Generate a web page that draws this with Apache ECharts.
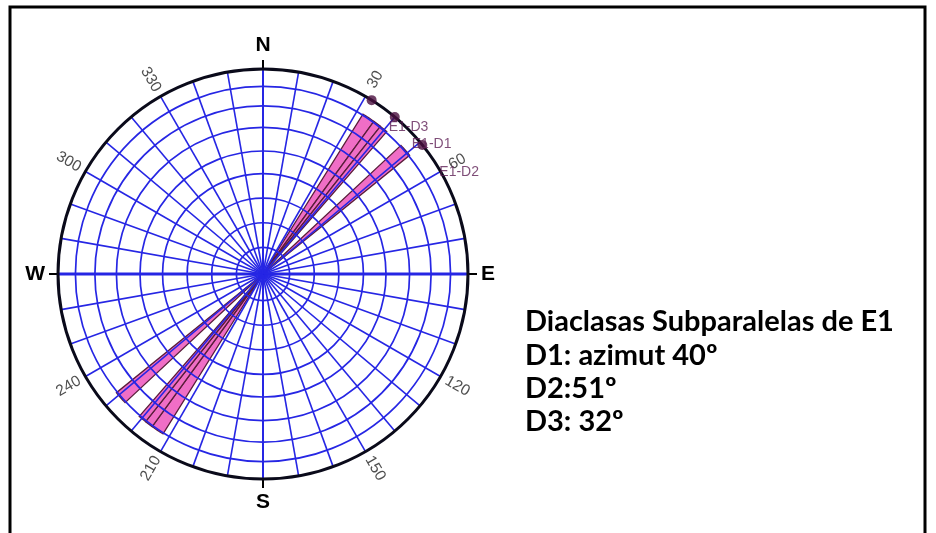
<!DOCTYPE html>
<html><head><meta charset="utf-8">
<script src="https://cdn.jsdelivr.net/npm/echarts/dist/echarts.min.js"></script>
<style>html,body{margin:0;padding:0;background:#fff}#c{width:936px;height:533px}</style>
</head><body><div id="c"></div>
<script>
// ---- data ----
const cardinalLabels = {0:'N', 90:'E', 180:'S', 270:'W'};
const tickAngles = [30, 60, 120, 150, 210, 240, 300, 330];
const tickLabels = ['30', '60', '120', '150', '210', '240', '300', '330'];
const gridCircleRadii = [0.13, 0.25, 0.37, 0.49, 0.60, 0.715, 0.82, 0.915];
const spokeAngles = [0,10,20,30,40,50,60,70,80,90,100,110,120,130,140,150,160,170,
                     180,190,200,210,220,230,240,250,260,270,280,290,300,310,320,330,340,350];
const petalStart  = [32, 36, 38.5, 47];
const petalEnd    = [36, 38.5, 41, 51];
const petalLength = [0.92, 0.92, 0.92, 0.92];
const jointNames    = ['E1-D3', 'E1-D1', 'E1-D2'];
const jointAzimuths = [32, 40, 51];
const infoLines = ['Diaclasas Subparalelas de E1', 'D1: azimut 40º', 'D2:51º', 'D3: 32º'];

// ---- chart ----
const chart = echarts.init(document.getElementById('c'), null, {renderer: 'canvas'});
const BLUE = '#2626e4';
const labelFont = 'Liberation Sans';

const petalData = [];
petalStart.forEach((s, i) => {
  petalData.push([petalLength[i], s, petalEnd[i]]);
  petalData.push([petalLength[i], s + 180, petalEnd[i] + 180]);
});

const option = {
  backgroundColor: '#fff',
  animation: false,
  polar: {center: [263, 274], radius: 205},
  radiusAxis: {
    type: 'value', min: 0, max: 1,
    axisLine: {show: false}, axisTick: {show: false}, axisLabel: {show: false},
    splitLine: {show: false}
  },
  angleAxis: {
    type: 'value', min: 0, max: 360, interval: 90, startAngle: 90, clockwise: true,
    z: 10,
    axisLine: {show: true, lineStyle: {color: '#0a0a1a', width: 3}},
    axisTick: {show: true, length: 9, lineStyle: {color: '#000', width: 2}},
    axisLabel: {
      show: true, margin: 13,
      formatter: v => cardinalLabels[v] !== undefined && v !== 360 ? cardinalLabels[v] : '',
      fontSize: 21, fontWeight: 'bold', color: '#000', fontFamily: labelFont
    },
    splitLine: {show: false}
  },
  graphic: [
    {type: 'rect', shape: {x: 10, y: 7, width: 915, height: 545},
     style: {fill: 'none', stroke: '#000', lineWidth: 3}, z: 100},
    ...infoLines.map((t, i) => ({
      type: 'text', x: 525, y: 322 + i * 33.3,
      style: {text: t, fill: '#000', fontSize: 29, fontWeight: 'bold', fontFamily: 'Lato',
              verticalAlign: 'middle', align: 'left'}
    }))
  ],
  series: [
    {
      type: 'custom', coordinateSystem: 'polar', z: 2,
      data: petalData,
      renderItem(params, api) {
        const r = api.value(0), s = api.value(1), e = api.value(2);
        const pts = [api.coord([0, s])];
        for (let a = s; a < e; a += 0.5) pts.push(api.coord([r, a]));
        pts.push(api.coord([r, e]));
        return {type: 'polygon', shape: {points: pts},
                style: {fill: '#f06ec6', stroke: '#5a1d3a', lineWidth: 1.3}};
      }
    },
    {
      type: 'custom', coordinateSystem: 'polar', z: 3,
      data: gridCircleRadii.map(r => [r, 0]),
      renderItem(params, api) {
        const c = api.coord([0, 0]);
        const p = api.coord([api.value(0), 0]);
        return {type: 'circle',
                shape: {cx: c[0], cy: c[1], r: Math.hypot(p[0] - c[0], p[1] - c[1])},
                style: {fill: 'none', stroke: BLUE, lineWidth: 1.7}};
      }
    },
    {
      type: 'custom', coordinateSystem: 'polar', z: 3,
      data: spokeAngles.map(a => [1, a]),
      renderItem(params, api) {
        const a = api.value(1);
        const p0 = api.coord([0, a]);
        const p1 = api.coord([api.value(0), a]);
        const w = (a === 90 || a === 270) ? 3.2 : (a === 0 || a === 180) ? 2 : 1.6;
        return {type: 'line', shape: {x1: p0[0], y1: p0[1], x2: p1[0], y2: p1[1]},
                style: {stroke: BLUE, lineWidth: w}};
      }
    },
    {
      type: 'scatter', coordinateSystem: 'polar', z: 20, clip: false,
      symbolSize: 1, itemStyle: {color: 'rgba(0,0,0,0)'},
      data: tickAngles.map((a, i) => ({
        value: [1.095, a], name: tickLabels[i],
        label: {rotate: a < 180 ? 90 - a : 270 - a}
      })),
      label: {show: true, position: 'inside', formatter: p => p.name,
              fontSize: 15.5, color: '#222', fontFamily: labelFont},
      emphasis: {disabled: true}
    },
    {
      type: 'scatter', coordinateSystem: 'polar', z: 21, clip: false,
      symbolSize: 10, itemStyle: {color: '#4a0f3e'},
      data: jointAzimuths.map((a, i) => ({value: [1, a], name: jointNames[i]})),
      label: {show: true, position: [22, 32], align: 'left', verticalAlign: 'middle',
              formatter: p => p.name, fontSize: 14, color: '#5e1f55', fontFamily: labelFont},
      emphasis: {disabled: true}
    }
  ]
};
chart.setOption(option);
</script>
</body></html>
